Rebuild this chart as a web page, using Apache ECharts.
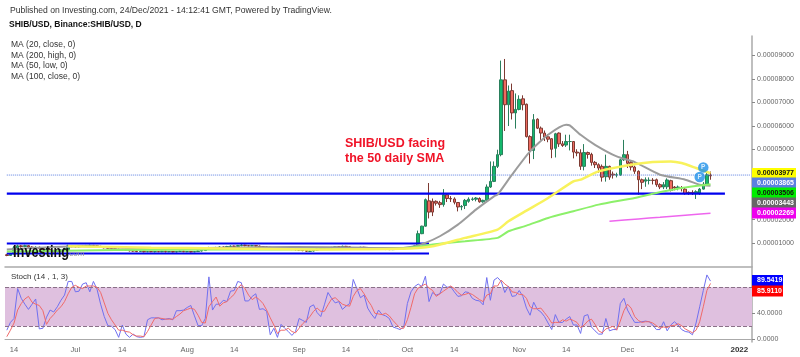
<!DOCTYPE html>
<html>
<head>
<meta charset="utf-8">
<title>SHIB/USD</title>
<style>
html, body { margin: 0; padding: 0; background: #fff; }
#chart { width: 800px; height: 357px; }
</style>
<script src="https://cdn.jsdelivr.net/npm/echarts@6/dist/echarts.min.js"></script>
</head>
<body>
<div id="chart"></div>
<script>
// prices are in units of 0.00000001 USD, one row per day from 12 Jun 2021
const categories = [];
for (let d = new Date(Date.UTC(2021, 5, 12)), i = 0; i < 207; i++, d.setUTCDate(d.getUTCDate() + 1)) {
    categories.push(d.toISOString().slice(0, 10));
}

// open, close, low, high
const candles = [
    [500,470,440,540],[470,540,450,570],[540,790,520,870],[790,880,770,930],[880,850,800,920],[850,890,820,930],[890,830,800,910],[830,800,770,860],[800,820,770,860],[820,760,720,850],
    [760,690,650,790],[690,720,660,750],[720,680,640,750],[680,640,600,710],[640,660,600,700],[660,700,630,730],[700,760,680,800],[720,880,690,930],[880,850,820,900],[850,840,810,880],
    [840,880,810,910],[880,870,840,910],[870,890,850,920],[890,900,860,930],[900,880,860,920],[880,860,840,900],[860,840,800,880],[840,800,770,860],[800,780,750,820],[780,760,730,800],
    [760,740,710,780],[740,720,690,760],[720,730,690,750],[730,700,670,750],[700,670,640,720],[670,660,630,690],[660,640,610,680],[640,650,620,670],[650,630,600,670],[630,640,610,660],
    [640,630,610,660],[630,640,600,660],[640,630,610,650],[630,650,610,670],[650,630,600,670],[630,640,610,660],[640,620,600,650],[620,640,600,660],[640,650,620,670],[650,630,610,670],
    [630,640,610,660],[640,620,600,660],[620,640,610,660],[640,660,620,680],[660,680,640,710],[680,790,660,820],[790,800,760,840],[800,780,750,820],[780,810,770,840],[810,830,790,860],
    [830,820,790,850],[820,850,800,880],[850,870,830,900],[870,860,830,890],[860,890,840,920],[890,910,860,950],[910,890,860,930],[890,880,850,910],[880,890,860,920],[890,870,840,900],
    [870,850,820,890],[850,840,810,870],[840,820,790,860],[820,810,780,840],[810,800,770,830],[800,790,760,830],[790,780,750,820],[780,770,740,800],[770,760,730,790],[760,740,700,780],
    [740,720,680,760],[720,700,660,740],[700,680,650,720],[680,650,620,700],[650,660,620,690],[660,700,640,720],[700,750,680,770],[750,770,730,800],[770,750,730,790],[750,780,740,810],
    [780,810,760,840],[810,840,790,860],[840,830,810,870],[830,860,810,890],[860,840,810,880],[840,810,780,860],[810,790,770,830],[790,800,770,820],[800,820,780,840],[820,810,780,840],
    [810,790,770,830],[790,780,750,810],[780,770,740,800],[770,750,720,790],[750,740,710,770],[740,730,700,760],[730,720,700,750],[720,730,700,750],[730,740,710,760],[740,770,720,790],
    [770,780,740,800],[790,800,760,830],[800,810,770,840],[810,880,780,920],[880,1400,860,1530],[1400,1720,1380,1740],[1720,2850,1700,2900],[2800,2320,2050,3560],[2780,2320,2150,2900],[2780,2700,2600,2820],
    [2720,2640,2500,2800],[2640,3060,2550,3300],[3060,2900,2750,3100],[2900,2880,2750,3000],[2880,2740,2650,2950],[2730,2540,2350,2750],[2540,2560,2400,2620],[2600,2820,2450,2880],[2780,2870,2720,2950],[2860,2880,2800,2950],
    [2870,2920,2780,2960],[2900,2760,2720,2950],[2760,2820,2720,2850],[2820,3390,2780,3500],[3390,3630,3350,4480],[3630,4270,3600,4480],[4270,4770,4200,4980],[4770,7960,4700,8780],[7960,6900,5780,8850],[6900,7480,5990,7720],
    [7500,6550,6270,7800],[6550,6700,5880,7380],[6700,7130,6660,7300],[7150,6900,6660,7300],[6920,5540,5500,6950],[5540,4950,4390,5600],[4950,6260,4580,6500],[6280,5900,5860,6320],[5900,5690,5400,5970],[5690,5520,5350,5800],
    [5530,5430,5300,5650],[5450,5000,4620,5480],[5040,5660,4650,5700],[5690,5230,5100,5720],[5230,5160,5100,5350],[5180,5330,5100,5620],[5330,5330,4950,5620],[5330,4880,4610,5350],[4880,4840,4700,5000],[4850,4270,4120,5000],
    [4270,4860,4100,5220],[4860,4780,4600,4900],[4780,4440,4300,4850],[4440,4340,4200,4500],[4340,4200,4000,4400],[4270,3810,3620,4350],[3830,4270,3620,4770],[4270,3810,3700,4300],[3940,3900,3750,4050],[3900,3910,3800,4000],
    [3900,4550,3870,4600],[4550,4770,4500,5400],[4770,4400,4200,4930],[4440,4240,4100,4500],[4240,4060,3950,4300],[4060,3700,3060,4100],[3700,3590,3300,3750],[3640,3700,3400,3800],[3670,3680,3500,3800],[3680,3670,3500,3770],
    [3700,3490,3400,3750],[3490,3390,3300,3550],[3390,3490,3300,3600],[3400,3690,3300,3760],[3660,3240,3200,3700],[3390,3350,3250,3430],[3350,3390,3250,3450],[3350,3340,3200,3430],[3300,3110,3060,3350],[3160,3130,3050,3200],
    [3160,3130,3050,3250],[3120,3190,2880,3250],[3130,3300,3050,3350],[3300,3510,3280,3600],[3510,3910,3480,4060],[3900,3865,3700,4050]
];

// moving averages, read at the bends: [day index, price]
const ma20 = [[0,720],[20,860],[40,760],[60,800],[80,830],[100,800],[109,790],[113,865],[116,1007],[120,1290],[125,1787],[130,2425],[135,2993],[136,3064],[140,3915],[145,4908],[150,5617],[155,6043],[156,6020],[159,5617],[163,5191],[169,4695],[174,4454],[181,3915],[188,3702],[192,3489],[195,3443]];
const ma200 = [[167,1930],[175,2030],[181,2099],[188,2190],[195,2269]];
const ma50 = [[0,640],[30,700],[60,720],[90,740],[109,752],[118,936],[127,1078],[136,1220],[139,1504],[144,1745],[150,2071],[157,2355],[164,2638],[174,2922],[179,3106],[187,3348],[195,3506]];
const ma100 = [[17,860],[40,800],[60,770],[85,730],[109,752],[118,865],[127,1220],[136,1574],[139,1929],[144,2383],[150,2922],[157,3631],[159,3702],[164,4057],[173,4340],[179,4454],[184,4482],[187,4411],[191,4199],[195,3977]];

const supportLine = [[0,3106],[199,3106]];
const rangeTop = [[0,979],[117,979]];
const rangeBottom = [[0,553],[117,553]];
const lastPriceLine = [[0,3900],[206,3900]];
const pivots = [[192,3817],[193,4226]];

const stochK = [
    14,26,32,78,63,54,46,54,62,16, 17,34,45,42,50,60,68,89,89,73, 74,85,87,73,89,77,54,35,21,20,
    15,3,22,8,3,8,4,3,4,30, 33,33,33,30,31,32,30,44,44,45, 49,52,36,21,21,32,96,45,54,54,
    60,58,74,75,89,87,59,59,66,70, 46,47,43,7,17,3,23,17,12,6, 12,32,29,26,50,53,41,35,53,72,
    63,56,58,46,51,55,92,78,64,68, 48,39,32,45,38,36,32,19,17,15, 19,55,73,81,85,81,97,58,72,68,
    70,85,80,81,73,66,67,73,72,63, 60,59,53,95,60,91,95,89,72,82, 66,67,75,66,48,37,57,46,42,35,
    25,15,38,26,26,31,35,22,22,9, 36,38,19,13,8,8,32,13,15,15, 55,63,45,35,26,26,27,28,27,22,
    15,15,27,13,22,27,22,15,12,11, 7,25,50,75,99,89.5419
];
const stochD = [
    4,14,25,45,55,62,66,57,54,52, 44,23,32,38,45,50,58,70,80,83, 80,78,82,82,82,80,72,56,40,30,
    22,14,14,12,11,7,5,5,4,12, 22,32,33,32,31,31,31,35,39,44, 46,48,46,37,26,25,50,58,65,51,
    56,58,64,69,79,84,78,68,61,65, 61,55,45,33,22,9,14,14,17,12, 10,17,24,29,35,43,48,43,43,53,
    62,64,59,54,52,51,66,75,78,70, 60,52,40,39,38,40,36,29,23,17, 17,30,49,70,79,82,85,79,75,66,
    70,74,78,82,78,72,68,69,71,69, 65,61,58,68,70,82,82,91,85,81, 73,72,69,69,63,50,47,47,48,41,
    34,25,26,26,30,28,31,29,26,18, 22,28,31,23,13,10,16,18,20,14, 28,44,54,48,35,29,26,27,27,25,
    21,17,19,18,21,21,24,21,16,13, 10,14,27,50,75,85.911
];

const priceTicks = [1000,2000,3000,4000,5000,6000,7000,8000,9000];
const stochTicks = [0,40];
const maNames = ['MA (20, close, 0)','MA (200, high, 0)','MA (50, low, 0)','MA (100, close, 0)'];
const priceTags = ['0.00003977','0.00003865','0.00003506','0.00003443','0.00002269'];
const stochTags = ['89.5419','85.9110'];

const FONT = '"Liberation Sans", Arial, sans-serif';

function isTickDay(v) {
    const day = v.slice(8);
    return day === '01' || day === '14';
}
function dateLabel(v) {
    const month = v.slice(5, 7), day = v.slice(8);
    if (day === '14') return '14';
    if (month === '01') return '{year|' + v.slice(0, 4) + '}';
    return ['Jan','Feb','Mar','Apr','May','Jun','Jul','Aug','Sep','Oct','Nov','Dec'][+month - 1];
}

function maSeries(name, data, color, width) {
    return {
        name, type: 'line', data, xAxisIndex: 0, yAxisIndex: 0,
        showSymbol: false, smooth: 0.2, silent: true,
        lineStyle: { color, width }
    };
}
function levelSeries(name, data, color, width, type) {
    return {
        name, type: 'line', data, xAxisIndex: 0, yAxisIndex: 0,
        showSymbol: false, silent: true,
        lineStyle: { color, width, type: type || 'solid' }
    };
}

function tag(text, y, right, bg, fg) {
    return [
        { type: 'rect', shape: { x: 752, y: y - 5.5, width: right - 752, height: 11 }, style: { fill: bg }, z: 20 },
        { type: 'text', x: 757, y: y, z: 21, style: { text, fill: fg, font: 'bold 7px ' + FONT, textVerticalAlign: 'middle' } }
    ];
}
function plainText(text, x, y, font, fill) {
    return { type: 'text', x, y, z: 10, style: { text, font: font + ' ' + FONT, fill, textVerticalAlign: 'middle' } };
}

const graphic = [
    plainText('Published on Investing.com, 24/Dec/2021 - 14:12:41 GMT, Powered by TradingView.', 10, 11, '8.6px', '#333'),
    plainText('SHIB/USD, Binance:SHIB/USD, D', 9, 25, 'bold 8.5px', '#111'),
    plainText(maNames[0], 11, 45, '8.5px', '#333'),
    plainText(maNames[1], 11, 55.5, '8.5px', '#333'),
    plainText(maNames[2], 11, 66, '8.5px', '#333'),
    plainText(maNames[3], 11, 77, '8.5px', '#333'),
    plainText('SHIB/USD facing', 345, 144, 'bold 12.5px', '#f01428'),
    plainText('the 50 daily SMA', 345, 159, 'bold 12.5px', '#f01428'),
    plainText('Stoch (14 , 1, 3)', 11, 277, '8px', '#333'),
    { type: 'text', x: 13, y: 253, z: 12, scaleX: 0.8, style: { text: 'Investing', font: 'bold 16px ' + FONT, fill: '#111', textVerticalAlign: 'middle' } },
    plainText('.com', 67, 254, '8px', '#999'),
    ...tag(priceTags[0], 173.5, 796, '#ffff00', '#111'),
    ...tag(priceTags[1], 183, 796, '#5b7fe0', '#fff'),
    ...tag(priceTags[2], 193, 796, '#00ee00', '#111'),
    ...tag(priceTags[3], 203, 796, '#666666', '#fff'),
    ...tag(priceTags[4], 213, 796, '#ee00ee', '#fff'),
    ...tag(stochTags[0], 280.5, 783, '#0000ff', '#fff'),
    ...tag(stochTags[1], 291, 783, '#ff0000', '#fff')
];

const chart = echarts.init(document.getElementById('chart'), null, { renderer: 'canvas' });
chart.setOption({
    animation: false,
    backgroundColor: '#fff',
    textStyle: { fontFamily: FONT },
    grid: [
        { left: 5, right: 48, top: 36, height: 230.5 },
        { left: 5, right: 48, top: 267, height: 75 }
    ],
    xAxis: [
        {
            type: 'category', gridIndex: 0, data: categories,
            axisLine: { lineStyle: { color: '#aaa', width: 1.5 } },
            axisTick: { show: false }, axisLabel: { show: false }, splitLine: { show: false }
        },
        {
            type: 'category', gridIndex: 1, data: categories,
            axisLine: { lineStyle: { color: '#aaa', width: 1 } },
            axisTick: { alignWithLabel: true, length: 3, lineStyle: { color: '#888' }, interval: (i, v) => isTickDay(v) },
            axisLabel: {
                color: '#666', fontSize: 7.5, margin: 4,
                interval: (i, v) => isTickDay(v),
                formatter: dateLabel,
                rich: { year: { color: '#333', fontSize: 8, fontWeight: 'bold' } }
            },
            splitLine: { show: false }
        }
    ],
    yAxis: [
        {
            type: 'value', gridIndex: 0, position: 'right', min: 0, max: 9830,
            axisLine: { show: true, lineStyle: { color: '#aaa', width: 1.5 } },
            axisTick: { show: true, length: 3, lineStyle: { color: '#888' }, customValues: priceTicks },
            axisLabel: { color: '#666', fontSize: 7, margin: 5, customValues: priceTicks, formatter: v => (v / 1e8).toFixed(8) },
            splitLine: { show: false }
        },
        {
            type: 'value', gridIndex: 1, position: 'right', min: -4.15, max: 111.2,
            axisLine: { show: true, lineStyle: { color: '#aaa', width: 1.5 } },
            axisTick: { show: true, length: 3, lineStyle: { color: '#888' }, customValues: stochTicks },
            axisLabel: { color: '#666', fontSize: 7, margin: 5, customValues: stochTicks, formatter: v => v.toFixed(4) },
            splitLine: { show: false }
        }
    ],
    series: [
        {
            name: 'SHIB/USD', type: 'candlestick', data: candles, xAxisIndex: 0, yAxisIndex: 0,
            barWidth: 3, silent: true,
            itemStyle: { color: '#14b86c', color0: '#ee6a60', borderColor: '#2a7f5c', borderColor0: '#7d3a32', borderWidth: 1 }
        },
        levelSeries('Support', supportLine, '#0000ee', 2.2),
        levelSeries('Range top', rangeTop, '#0000ee', 2),
        levelSeries('Range bottom', rangeBottom, '#0000ee', 2),
        levelSeries('Last price', lastPriceLine, '#5b7fe0', 1, 'dotted'),
        maSeries(maNames[0], ma20, '#9c9c9c', 2),
        maSeries(maNames[1], ma200, '#ee66ee', 1.5),
        maSeries(maNames[2], ma50, '#8cf06a', 2),
        maSeries(maNames[3], ma100, '#f8f25c', 2.5),
        {
            name: 'Pivots', type: 'scatter', data: pivots, xAxisIndex: 0, yAxisIndex: 0,
            symbolSize: 10.5, silent: true,
            itemStyle: { color: '#1e90e8' },
            label: { show: true, formatter: 'P', color: '#fff', fontSize: 6.5, fontWeight: 'bold', position: 'inside' },
            z: 6
        },
        {
            name: 'Stoch %K', type: 'line', data: stochK, xAxisIndex: 1, yAxisIndex: 1,
            showSymbol: false, silent: true, z: 4,
            lineStyle: { color: '#7070f0', width: 1 },
            markArea: {
                silent: true,
                itemStyle: { color: '#dfc0df' },
                data: [[{ yAxis: 20 }, { yAxis: 80 }]]
            },
            markLine: {
                silent: true, symbol: 'none', label: { show: false },
                lineStyle: { color: '#8a7088', type: 'dashed', width: 1 },
                data: [{ yAxis: 20 }, { yAxis: 80 }]
            }
        },
        {
            name: 'Stoch %D', type: 'line', data: stochD, xAxisIndex: 1, yAxisIndex: 1,
            showSymbol: false, silent: true, z: 5,
            lineStyle: { color: '#f06a6a', width: 1 }
        }
    ],
    graphic
});
</script>
</body>
</html>
